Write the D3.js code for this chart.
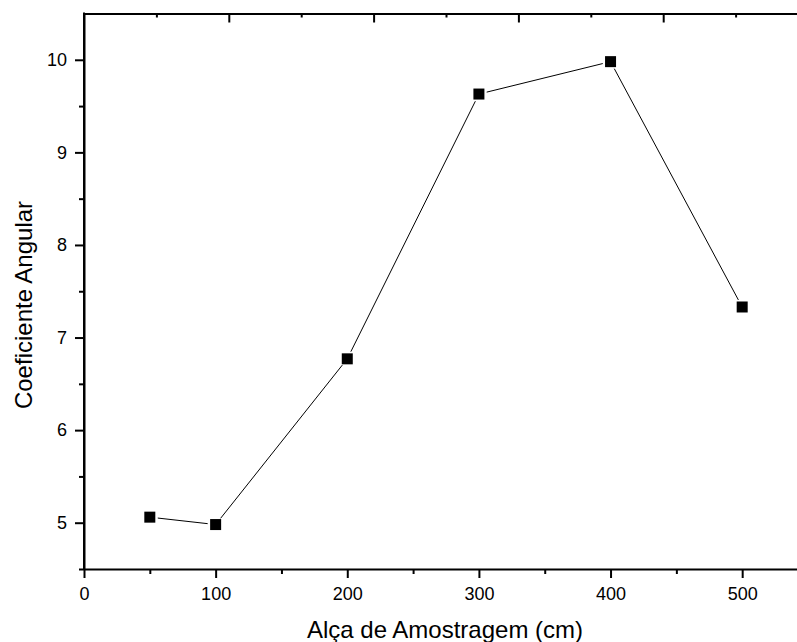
<!DOCTYPE html>
<html>
<head>
<meta charset="utf-8">
<script src="https://cdn.jsdelivr.net/npm/d3@7"></script>
<style>
  body { margin: 0; background: #fff; }
  text { font-family: Arial, "Liberation Sans", sans-serif; fill: #000; }
</style>
</head>
<body>
<div id="chart"></div>
<script>
// data
const loops = [50, 100, 200, 300, 400, 500];
const coefs = [5.06, 4.98, 6.77, 9.63, 9.98, 7.33];
const xTicks = [0, 100, 200, 300, 400, 500];
const xMinor = [50, 150, 250, 350, 450];
const topTicks = [100, 200, 300, 400];
const topMinor = [50, 150, 250, 350, 450];
const yTicks = [5, 6, 7, 8, 9, 10];
const yMinor = [4.5, 5.5, 6.5, 7.5, 8.5, 9.5];

const width = 797, height = 642;
const plotLeft = 84, plotRight = 808, plotTop = 13.5, plotBottom = 569;

const svg = d3.select("#chart").append("svg")
    .attr("width", width)
    .attr("height", height);

const x = d3.scaleLinear().domain([0, 550]).range([plotLeft, plotRight]);
// the top frame carries its own 0-500 scale over the full width
const xTop = d3.scaleLinear().domain([0, 500]).range([plotLeft, plotRight]);
const y = d3.scaleLinear().domain([4.5, 10.5]).range([plotBottom, plotTop]);

// bottom axis
const gx = svg.append("g").attr("transform", `translate(0,${plotBottom})`);
gx.call(d3.axisBottom(x).tickValues(xTicks).tickSize(9).tickPadding(9).tickSizeOuter(0));
gx.append("g").call(d3.axisBottom(x).tickValues(xMinor).tickSize(5).tickFormat("").tickSizeOuter(0))
    .select(".domain").remove();

// top axis, ticks pointing in
const gt = svg.append("g").attr("transform", `translate(0,${plotTop})`);
gt.call(d3.axisBottom(xTop).tickValues(topTicks).tickSize(9).tickFormat("").tickSizeOuter(0));
gt.append("g").call(d3.axisBottom(xTop).tickValues(topMinor).tickSize(4).tickFormat("").tickSizeOuter(0))
    .select(".domain").remove();

// left axis
const gy = svg.append("g").attr("transform", `translate(${plotLeft},0)`);
gy.call(d3.axisLeft(y).tickValues(yTicks).tickFormat(d3.format("d")).tickSize(9).tickPadding(8).tickSizeOuter(0));
gy.append("g").call(d3.axisLeft(y).tickValues(yMinor).tickSize(5).tickFormat("").tickSizeOuter(0))
    .select(".domain").remove();

svg.selectAll(".domain").attr("stroke-width", 2);
svg.selectAll(".tick line").attr("stroke-width", 2);
svg.selectAll(".tick text")
    .attr("font-family", null)
    .style("font-size", "18px");

// left edge line covers the corner
svg.append("line")
    .attr("x1", plotLeft).attr("x2", plotLeft)
    .attr("y1", plotTop - 1).attr("y2", plotBottom + 1)
    .attr("stroke", "#000").attr("stroke-width", 2);

// connecting line, with a small gap at each marker
const pts = loops.map((v, i) => [x(v), y(coefs[i])]);
const gap = 8;
for (let i = 0; i < pts.length - 1; i++) {
    const [x1, y1] = pts[i], [x2, y2] = pts[i + 1];
    const len = Math.hypot(x2 - x1, y2 - y1);
    const ux = (x2 - x1) / len, uy = (y2 - y1) / len;
    svg.append("line")
        .attr("x1", x1 + ux * gap).attr("y1", y1 + uy * gap)
        .attr("x2", x2 - ux * gap).attr("y2", y2 - uy * gap)
        .attr("stroke", "#000").attr("stroke-width", 1);
}

// square markers
const ms = 11;
svg.selectAll("rect.pt")
    .data(loops)
    .enter().append("rect")
    .attr("class", "pt")
    .attr("x", d => x(d) - ms / 2)
    .attr("y", (d, i) => y(coefs[i]) - ms / 2)
    .attr("width", ms)
    .attr("height", ms)
    .attr("fill", "#000");

// axis titles
svg.append("text")
    .attr("x", 445).attr("y", 638)
    .attr("text-anchor", "middle")
    .style("font-size", "24px")
    .text("Alça de Amostragem (cm)");

svg.append("text")
    .attr("transform", "translate(32,305) rotate(-90)")
    .attr("text-anchor", "middle")
    .style("font-size", "24px")
    .text("Coeficiente Angular");
</script>
</body>
</html>
